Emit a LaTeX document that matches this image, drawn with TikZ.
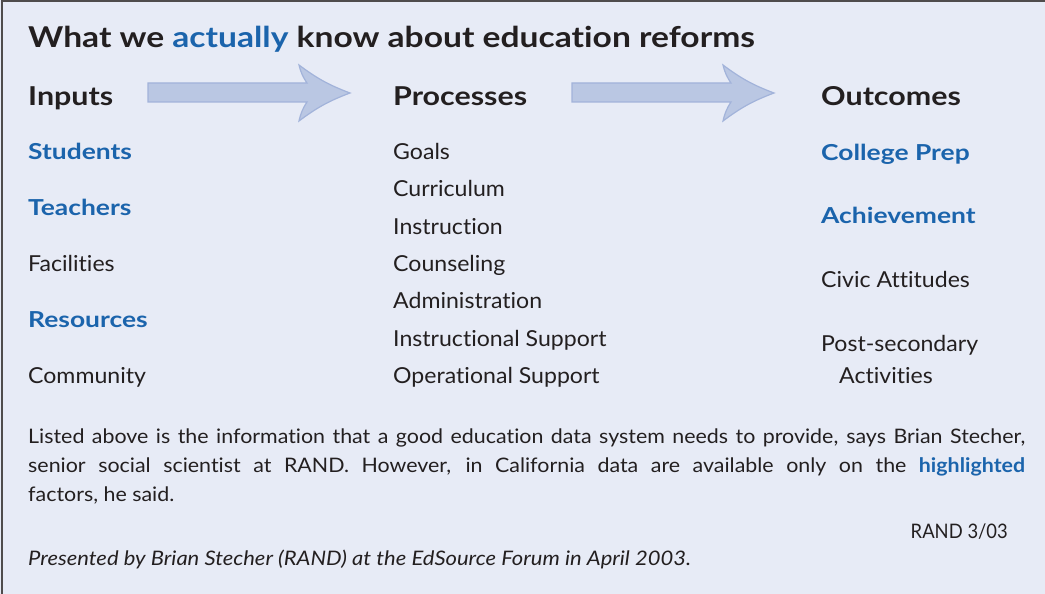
\documentclass[tikz,border=0pt]{standalone}
\usepackage{fontspec}
\setmainfont{Lato}[Ligatures=NoCommon]
\newfontfamily\itemfont[FakeStretch=1.05, Ligatures=NoCommon]{Lato}
\newfontfamily\wideboldfont[FakeStretch=1.2, Ligatures=NoCommon]{Lato}
\newfontfamily\headfont[FakeStretch=1.17, Ligatures=NoCommon]{Lato}
\newfontfamily\notefont[FakeStretch=1.07, Ligatures=NoCommon]{Lato}
\newfontfamily\creditfont[FakeStretch=1.1, Ligatures=NoCommon]{Lato}
\newfontfamily\stampfont[FakeStretch=0.92, Ligatures=NoCommon]{Lato}
\usepackage{xcolor}
\usepackage{tikz}
\usetikzlibrary{positioning}

\definecolor{bgpanel}{HTML}{E7EBF6}
\definecolor{keyblue}{HTML}{1B64AC}
\definecolor{inkgray}{HTML}{231F20}
\definecolor{arrowfill}{HTML}{BAC7E3}
\definecolor{arrowline}{HTML}{A2B3DA}

\tikzset{
  title/.style={anchor=base west, inner sep=0pt, text=inkgray, font=\fontsize{28.7}{32}\headfont\bfseries},
  head/.style={anchor=base west, inner sep=0pt, text=inkgray, font=\fontsize{26}{30}\headfont\bfseries},
  item/.style={anchor=base west, inner sep=0pt, text=inkgray, font=\fontsize{22}{26}\itemfont},
  keyitem/.style={anchor=base west, inner sep=0pt, text=keyblue, font=\fontsize{22}{26}\wideboldfont\bfseries},
  note/.style={anchor=base west, inner sep=0pt, text=inkgray, font=\fontsize{20}{24}\notefont},
  bigarrow/.style={fill=arrowfill, draw=arrowline, line width=1.2pt, line join=miter}
}

\begin{document}
\begin{tikzpicture}[x=1pt, y=-1pt]
\useasboundingbox (0,0) rectangle (1045,594);
\fill[bgpanel] (0,0) rectangle (1045,594);
\draw[inkgray!80, line width=2pt] (2,594) -- (2,1.5) -- (1045,1.5);

\node[title] (title) at (28,48) {What we \textcolor{keyblue}{actually} know about education reforms};

\node[head] (inputs) at (28,106) {Inputs};
\node[head] (processes) at (393,106) {Processes};
\node[head] (outcomes) at (821,106) {Outcomes};

% block arrows between the column heads
\foreach \s/\b/\t in {148/299/350, 572/723/774}
  \draw[bigarrow] (\s,83) -- (\b+8,83) to[bend left=10] (\b,65)
    to[bend right=8] (\t,93) to[bend right=8] (\b,121)
    to[bend left=10] (\b+8,102) -- (\s,102) -- cycle;

\node[keyitem] (students) at (28,159) {Students};
\node[keyitem] (teachers) at (28,215) {Teachers};
\node[item] (facilities) at (28,271) {Facilities};
\node[keyitem] (resources) at (28,327) {Resources};
\node[item] (community) at (28,383) {Community};

\node[item] (goals) at (393,159) {Goals};
\node[item] (curriculum) at (393,196) {Curriculum};
\node[item] (instruction) at (393,234) {Instruction};
\node[item] (counseling) at (393,271) {Counseling};
\node[item] (admin) at (393,308) {Administration};
\node[item] (instsupport) at (393,346) {Instructional Support};
\node[item] (opsupport) at (393,383) {Operational Support};

\node[keyitem] (college) at (821,160) {College Prep};
\node[keyitem] (achieve) at (821,223) {Achievement};
\node[item] (civic) at (821,287) {Civic Attitudes};
\node[item] (postsec) at (821,351) {Post-secondary};
\node[item] (activities) at (839,383) {Activities};

\node[note] (line1) at (28,443) {\makebox[997pt][s]{Listed above is the information that a good education data system needs to provide, says Brian Stecher,}};
\node[note] (line2) at (28,472) {\makebox[997pt][s]{senior social scientist at RAND. However, in California data are available only on the \textcolor{keyblue}{\bfseries highlighted}}};
\node[note] (line3) at (28,501) {factors, he said.};
\node[note, anchor=base east, font=\fontsize{20}{24}\stampfont] (stamp) at (1008,538) {RAND 3/03};
\node[note, font=\fontsize{20}{24}\creditfont\itshape] (credit) at (28,565) {Presented by Brian Stecher (RAND) at the EdSource Forum in April 2003.};
\end{tikzpicture}
\end{document}
